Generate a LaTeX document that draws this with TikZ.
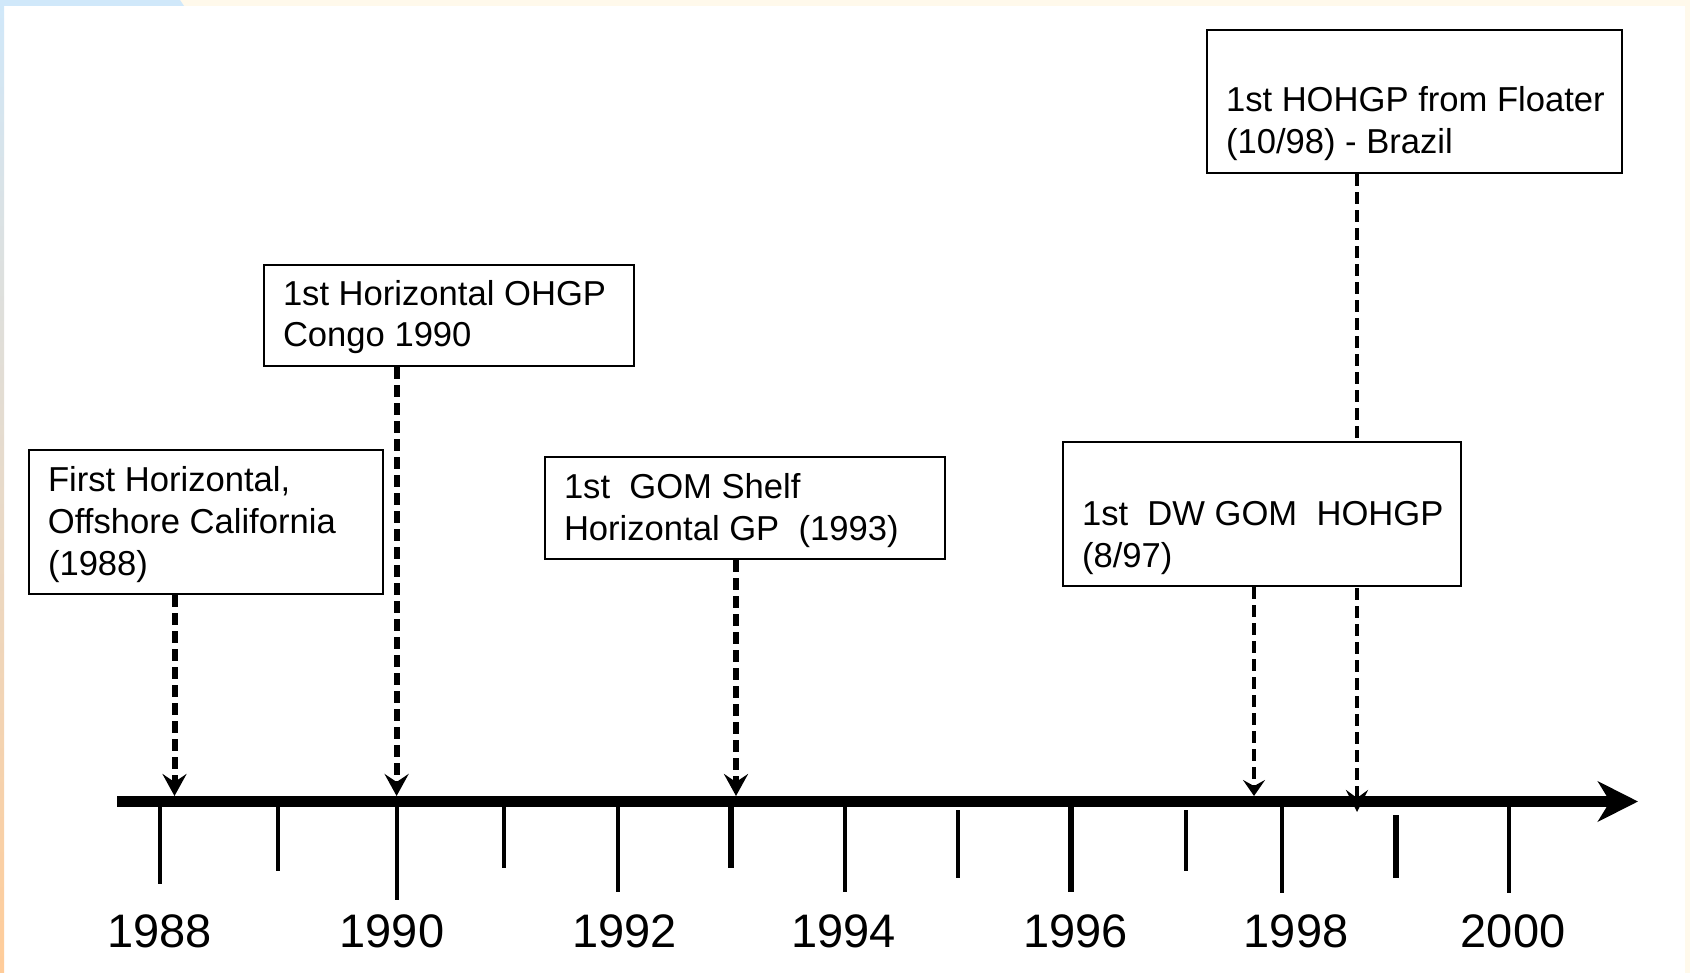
\documentclass[tikz,border=0pt]{standalone}
\usepackage{fontspec}
\setmainfont{Liberation Sans}
\usetikzlibrary{arrows.meta,backgrounds}
\definecolor{edgeblue}{RGB}{208,232,250}
\definecolor{edgecream}{RGB}{255,249,235}
\definecolor{edgepeach}{RGB}{255,204,153}
\newcommand{\evtext}[3]{\parbox[c][#1][b]{#2}{\raggedright\leftskip=9.5pt\relax #3}}
\tikzset{
  >=Stealth,
  evbox/.style={draw, fill=white, line width=1pt, anchor=north west, inner xsep=0pt, inner ysep=6pt, font=\fontsize{17.3}{21}\selectfont},
  evarrow/.style={-{Stealth[length=11pt,width=12pt,inset=4pt]}, line width=3pt, dash pattern=on 6pt off 3pt},
  thinarrow/.style={-{Stealth[length=8pt,width=11pt,inset=3pt]}, line width=2pt, dash pattern=on 6pt off 3pt},
  longtip/.style={-{Stealth[length=11pt,width=11pt,inset=4pt]}},
  timeaxis/.style={-{Stealth[length=20pt,width=20pt,inset=6pt]}, line width=5.5pt},
  yrlbl/.style={anchor=base, font=\fontsize{23.5}{28}\selectfont}
}
\begin{document}
\begin{tikzpicture}[x=0.5pt, y=-0.5pt]
\useasboundingbox (0,0) rectangle (1690,973);

\begin{scope}[on background layer]
\fill[white] (0,0) rectangle (1690,973);
\shade[top color=edgeblue, bottom color=edgepeach] (0,0) rectangle (4,973);
\fill[edgecream] (0,0) rectangle (1690,6);
\fill[edgeblue] (0,0) -- (180,0) -- (184,6) -- (0,6) -- cycle;
\fill[edgecream] (1685,0) rectangle (1690,973);
\end{scope}

\node[evbox] (first) at (28,449) {\evtext{56.5pt}{177pt}{First Horizontal,\\Offshore California\\(1988)}};
\node[evbox] (congo) at (263,264) {\evtext{35pt}{185pt}{1st Horizontal OHGP\\Congo 1990}};
\node[evbox] (shelf) at (544,456) {\evtext{35.5pt}{200pt}{1st~ GOM Shelf\\Horizontal GP~ (1993)}};
\node[evbox] (dwgom) at (1062,441) {\evtext{56.5pt}{199pt}{1st~ DW GOM~ HOHGP\\(8/97)}};
\node[evbox] (floater) at (1206,29) {\evtext{56pt}{207.5pt}{1st HOHGP from Floater\\(10/98) - Brazil}};

\coordinate (axstart) at (117,801.5);
\coordinate (axend) at (1638,801.5);
\coordinate (t88) at (174.5,796);
\coordinate (t90) at (396.6,796);
\coordinate (t93) at (736,796);
\coordinate (t97) at (1254,796);
\coordinate (t98) at (1357,812);

\foreach \x/\top/\bot/\w in {159.5/801/884/2pt, 278/801/871/2pt, 396.6/801/900/2pt, 504.4/801/868/2pt, 617.6/801/892/2pt, 730.7/801/868/3pt, 845/801/892/2pt, 958.2/810/878/2pt, 1071.3/801/892/3pt, 1185.5/810/871/2pt, 1281.5/801/893/2pt, 1396/815/878/3pt, 1509/801/893/2pt}
  \draw[line width=\w] (\x,\top) -- (\x,\bot);

\draw[timeaxis] (axstart) -- (axend);

\foreach \yr/\x in {1988/159.5, 1990/392, 1992/624.6, 1994/843.4, 1996/1075.6, 1998/1296, 2000/1513}
  \node[yrlbl] (y\yr) at (\x,947) {\yr};

\draw[evarrow] (first.south -| t88) -- (t88);
\draw[evarrow] (congo.south -| t90) -- (t90);
\draw[evarrow] (shelf.south -| t93) -- (t93);
\draw[thinarrow] (dwgom.south -| t97) -- (t97);
\begin{scope}[on background layer]
\draw[thinarrow, longtip] (floater.south -| t98) -- (t98);
\end{scope}

\end{tikzpicture}
\end{document}
